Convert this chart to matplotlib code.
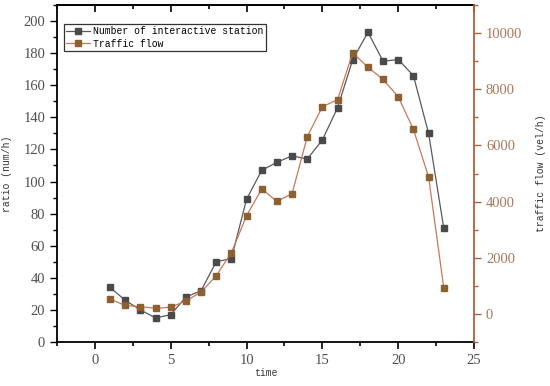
import matplotlib
matplotlib.use("Agg")
import matplotlib.pyplot as plt
from matplotlib.ticker import MultipleLocator

time = list(range(1, 24))
stations = [34, 26, 20, 15, 17, 28, 32, 50, 52, 89, 107, 112, 116, 114, 126, 146, 176, 193, 175, 176, 166, 130, 71]
traffic = [530, 300, 260, 200, 240, 460, 780, 1360, 2180, 3500, 4450, 4010, 4280, 6310, 7380, 7630, 9300, 8780, 8350, 7730, 6570, 4880, 930]

serif = ["Liberation Serif", "DejaVu Serif"]
mono = ["Liberation Mono", "DejaVu Sans Mono"]
right_col = "#b0603a"
right_txt = "#a8785a"

fig = plt.figure(figsize=(5.5, 3.86), dpi=100)
ax = fig.add_axes([0.1036, 0.114, 0.7584, 0.873])
ax2 = ax.twinx()

l1, = ax.plot(time, stations, color="#5a5a5a", lw=0.9, marker="s", ms=5,
              mfc="#4a4a4a", mec="#4a4a4a", label="Number of interactive station", zorder=3)
l2, = ax2.plot(time, traffic, color="#c87858", lw=0.9, marker="s", ms=5,
               mfc="#8c6030", mec="#8c6030", label="Traffic flow", zorder=3)

ax.set_xlim(-2.5, 25)
ax.set_ylim(0, 210)
ax2.set_ylim(-1000, 11000)

ax.xaxis.set_major_locator(MultipleLocator(5))
ax.xaxis.set_minor_locator(MultipleLocator(2.5))
ax.yaxis.set_major_locator(MultipleLocator(20))
ax.yaxis.set_minor_locator(MultipleLocator(10))
ax2.yaxis.set_major_locator(MultipleLocator(2000))
ax2.yaxis.set_minor_locator(MultipleLocator(1000))

ax.tick_params(axis="x", which="both", direction="out", bottom=True, top=False, color="black")
ax.tick_params(axis="x", which="major", length=5, width=1.2)
ax.tick_params(axis="x", which="minor", length=3, width=1.2)
ax.tick_params(axis="y", which="major", direction="out", length=5, width=1.0)
ax.tick_params(axis="y", which="minor", direction="out", length=3, width=1.0)
ax2.tick_params(axis="y", which="major", direction="out", length=5, width=1.0, colors=right_col, labelcolor=right_txt)
ax2.tick_params(axis="y", which="minor", direction="out", length=3, width=1.0, colors=right_col)

# top ticks (inward) via secondary axis
sec = ax.secondary_xaxis("top")
sec.xaxis.set_major_locator(MultipleLocator(5))
sec.xaxis.set_minor_locator(MultipleLocator(2.5))
sec.tick_params(axis="x", which="major", direction="in", length=5, width=1.2, labeltop=False)
sec.tick_params(axis="x", which="minor", direction="in", length=3, width=1.2)
sec.spines["top"].set_linewidth(1.3)

for sp in ["left", "bottom", "top"]:
    ax.spines[sp].set_linewidth(1.3)
ax.spines["right"].set_visible(False)
ax2.spines["right"].set_color(right_col)
ax2.spines["right"].set_linewidth(1.3)
for sp in ["left", "bottom", "top"]:
    ax2.spines[sp].set_visible(False)

for lab in ax.get_xticklabels() + ax.get_yticklabels():
    lab.set_fontfamily(serif)
    lab.set_fontsize(10.5)
    lab.set_color("#505050")
for lab in ax2.get_yticklabels():
    lab.set_fontfamily(serif)
    lab.set_fontsize(10.5)

ax.set_xlabel("time", family=mono, fontsize=7, color="#333333", labelpad=1)
ax.set_ylabel("ratio (num/h)", family=mono, fontsize=7, color="#333333", labelpad=8)
ax2.set_ylabel("traffic flow (vel/h)", family=mono, fontsize=7, color="#333333", labelpad=10)

leg = ax.legend(handles=[l1, l2], loc="upper left", bbox_to_anchor=(0.016, 0.945),
                prop={"family": mono, "size": 7}, frameon=True, fancybox=False,
                edgecolor="black", borderpad=0.25, labelspacing=0.3, handlelength=2.5,
                handletextpad=0.3, borderaxespad=0)
leg.get_frame().set_linewidth(0.9)

fig.savefig("out.png", dpi=100)
